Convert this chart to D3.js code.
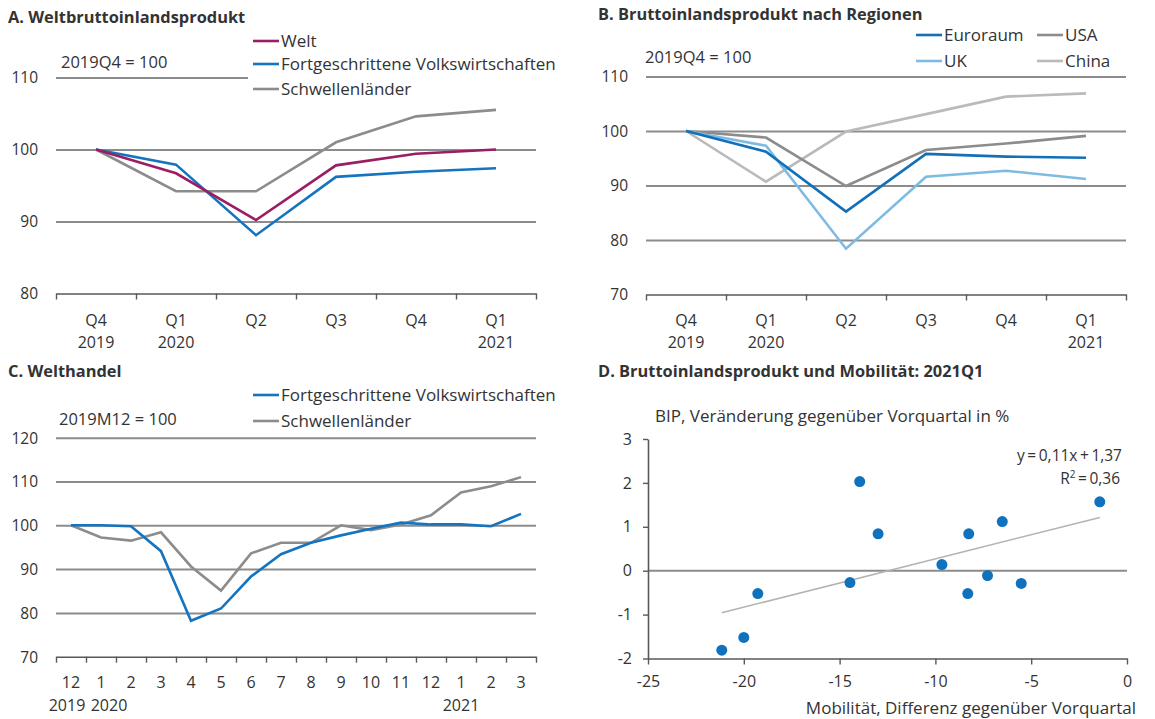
<!DOCTYPE html>
<html><head><meta charset="utf-8">
<script src="https://cdn.jsdelivr.net/npm/d3@7"></script>
<style>
html,body{margin:0;padding:0;background:#fff;}
svg text{font-family:"Open Sans","Noto Sans",sans-serif;fill:#333;}
</style></head>
<body>
<svg id="c" width="1155" height="719"></svg>
<script>
// ---------- data ----------
const qLabels = ["Q4","Q1","Q2","Q3","Q4","Q1"];
const qYears  = ["2019","2020","","","","2021"];
const weltA   = [100, 96.7, 90.2, 97.8, 99.4, 100.0];
const fortA   = [100, 97.9, 88.1, 96.2, 96.9, 97.4];
const schwA   = [100, 94.2, 94.2, 101.0, 104.6, 105.5];
const yTicksA = [80, 90, 100, 110];

const euroB   = [100, 96.2, 85.2, 95.8, 95.3, 95.1];
const usaB    = [100, 98.8, 89.9, 96.5, 97.7, 99.1];
const ukB     = [100, 97.3, 78.4, 91.6, 92.7, 91.2];
const chinaB  = [100, 90.7, 99.9, 103.1, 106.3, 106.9];
const yTicksB = [70, 80, 90, 100, 110];

const months  = ["12","1","2","3","4","5","6","7","8","9","10","11","12","1","2","3"];
const fortC   = [100, 100, 99.8, 94.1, 78.2, 81.0, 88.3, 93.4, 96.0, 97.7, 99.2, 100.6, 100.2, 100.2, 99.8, 102.6];
const schwC   = [100, 97.2, 96.5, 98.4, 90.6, 85.1, 93.6, 96.0, 96.0, 100.0, 98.9, 100.2, 102.3, 107.5, 108.9, 111.0];
const yTicksC = [70, 80, 90, 100, 110, 120];

const mobility = [-21.15, -20.0, -19.27, -14.46, -13.95, -12.99, -9.66, -8.26, -8.31, -7.28, -6.51, -5.52, -1.42];
const gdpGrowth = [-1.81, -1.52, -0.52, -0.27, 2.03, 0.84, 0.14, 0.84, -0.52, -0.11, 1.12, -0.29, 1.57];
const trendSlope = 0.11, trendIntercept = 1.37;
const xTicksD = [-25, -20, -15, -10, -5, 0];
const yTicksD = [-2, -1, 0, 1, 2, 3];

// ---------- styles ----------
const C = {
  welt:"#9b1d63", blue:"#1474bf", gray:"#8c8c8c", lightgray:"#bababa",
  lightblue:"#7dbbe3", grid:"#8c8c8c", axis:"#595959", text:"#333"
};
const FS = 15.5;      // numbers / tick labels
const FT = 17;        // word labels
const svg = d3.select("#c");
const fmt = d => String(d);   // plain hyphen for negatives, as in the original

function title(x, y, t){
  svg.append("text").attr("x",x).attr("y",y).attr("font-size",16.4).attr("font-weight","bold")
     .attr("fill","#222").text(t);
}
function txt(g, x, y, t, anchor, fs){
  return g.append("text").attr("x",x).attr("y",y).attr("font-size",fs||FS)
     .attr("text-anchor",anchor||"start").text(t);
}

function linePanel(o){
  const g = svg.append("g");
  const n = o.labels.length;
  const xi = d3.scaleLinear().domain([0,n]).range([o.x0,o.x1]);
  const xc = i => xi(i+0.5);
  const y = d3.scaleLinear().domain(o.yDomain).range([o.yBottom,o.yTop]);
  const ga = g.append("g").attr("transform",`translate(${o.x0},0)`)
    .call(d3.axisLeft(y).tickValues(o.yTicks).tickSize(-(o.x1-o.x0)).tickFormat(fmt));
  ga.select(".domain").remove();
  ga.selectAll(".tick line").attr("stroke",C.grid).attr("stroke-width",2)
    .filter(d=>d===o.yDomain[0]).remove();
  ga.selectAll(".tick text").attr("font-size",FS).attr("font-family",null).attr("fill",C.text)
    .attr("x", o.labelRight - o.x0).attr("dy","0.35em");
  const gx = g.append("g").attr("transform",`translate(0,${o.yBottom})`)
    .call(d3.axisBottom(xi).tickValues(d3.range(n+1)).tickSize(6).tickSizeOuter(0).tickFormat(""));
  gx.select(".domain").attr("stroke",C.axis).attr("stroke-width",1.6);
  gx.selectAll(".tick line").attr("stroke",C.axis).attr("stroke-width",1.4);
  o.labels.forEach((l,i)=>{ txt(g, xc(i), o.labY1, l, "middle", o.labFs); });
  o.onLegendBg && o.onLegendBg(g);
  const line = d3.line().x((d,i)=>xc(i)).y(d=>y(d));
  o.series.forEach(s=>{
    g.append("path").datum(s.data).attr("d",line).attr("fill","none")
     .attr("stroke",s.color).attr("stroke-width",2.6).attr("stroke-linejoin","miter");
  });
  return {g,xi,xc,y};
}

function legendItem(g, x, y, color, label){
  g.append("line").attr("x1",x).attr("x2",x+26).attr("y1",y).attr("y2",y)
   .attr("stroke",color).attr("stroke-width",2.6);
  txt(g, x+28, y+6, label, "start", FT);
}

// ---------- Panel A ----------
title(8, 23, "A. Weltbruttoinlandsprodukt");
{
  const p = linePanel({
    x0:56, x1:536, yBottom:293.5, yTop:77.5, yDomain:[80,110], yTicks:yTicksA,
    labelRight:38, labels:qLabels, labY1:326, labFs:16,
    series:[{data:schwA,color:C.gray},{data:fortA,color:C.blue},{data:weltA,color:C.welt}],
    onLegendBg:g=>g.append("rect").attr("x",248).attr("y",30).attr("width",320).attr("height",70).attr("fill","#fff")
  });
  qYears.forEach((t,i)=>{ if(t) txt(p.g, p.xc(i), 348, t, "middle", 16); });
  txt(p.g, 61, 68, "2019Q4 = 100", "start", 16.5);
  legendItem(p.g, 253, 41, C.welt, "Welt");
  legendItem(p.g, 253, 64, C.blue, "Fortgeschrittene Volkswirtschaften");
  legendItem(p.g, 253, 89, C.gray, "Schwellenländer");
}

// ---------- Panel B ----------
title(598, 20, "B. Bruttoinlandsprodukt nach Regionen");
{
  const p = linePanel({
    x0:646, x1:1126, yBottom:294.5, yTop:76.5, yDomain:[70,110], yTicks:yTicksB,
    labelRight:628, labels:qLabels, labY1:326, labFs:16,
    series:[{data:chinaB,color:C.lightgray},{data:usaB,color:C.gray},{data:ukB,color:C.lightblue},{data:euroB,color:"#1170b8"}]
  });
  qYears.forEach((t,i)=>{ if(t) txt(p.g, p.xc(i), 348, t, "middle", 16); });
  txt(p.g, 645, 63, "2019Q4 = 100", "start", 16.5);
  legendItem(p.g, 916, 35, "#1170b8", "Euroraum");
  legendItem(p.g, 1037, 35, C.gray, "USA");
  legendItem(p.g, 916, 61, C.lightblue, "UK");
  legendItem(p.g, 1037, 61, C.lightgray, "China");
}

// ---------- Panel C ----------
title(8, 377, "C. Welthandel");
{
  const p = linePanel({
    x0:56, x1:536, yBottom:656.7, yTop:437.7, yDomain:[70,120], yTicks:yTicksC,
    labelRight:38, labels:months, labY1:688, labFs:16,
    series:[{data:schwC,color:C.gray},{data:fortC,color:C.blue}]
  });
  txt(p.g, p.xc(0)-4, 711, "2019", "middle", 16);
  txt(p.g, p.xc(1)+8, 711, "2020", "middle", 16);
  txt(p.g, p.xc(13), 711, "2021", "middle", 16);
  txt(p.g, 59, 425, "2019M12 = 100", "start", 16.5);
  legendItem(p.g, 253, 395, C.blue, "Fortgeschrittene Volkswirtschaften");
  legendItem(p.g, 253, 421, C.gray, "Schwellenländer");
}

// ---------- Panel D ----------
title(598, 377, "D. Bruttoinlandsprodukt und Mobilität: 2021Q1");
{
  const g = svg.append("g");
  const x = d3.scaleLinear().domain([-25,0]).range([648,1127]);
  const y = d3.scaleLinear().domain([-2,3]).range([658.5,439]);
  g.append("line").attr("x1",x(-25)).attr("x2",x(0)).attr("y1",y(0)).attr("y2",y(0))
   .attr("stroke",C.grid).attr("stroke-width",2);
  const gy = g.append("g").attr("transform",`translate(${x(-25)},0)`)
    .call(d3.axisLeft(y).tickValues(yTicksD).tickSize(5).tickSizeOuter(0).tickPadding(11).tickFormat(fmt));
  gy.select(".domain").attr("stroke",C.axis).attr("stroke-width",1.6);
  gy.selectAll(".tick line").attr("stroke",C.axis).attr("stroke-width",1.4);
  gy.selectAll(".tick text").attr("font-size",16).attr("font-family",null).attr("fill",C.text);
  const gx = g.append("g").attr("transform",`translate(0,${y(-2)})`)
    .call(d3.axisBottom(x).tickValues(xTicksD).tickSize(6).tickSizeOuter(0).tickPadding(11).tickFormat(fmt));
  gx.select(".domain").attr("stroke",C.axis).attr("stroke-width",1.6);
  gx.selectAll(".tick line").attr("stroke",C.axis).attr("stroke-width",1.4);
  gx.selectAll(".tick text").attr("font-size",16).attr("font-family",null).attr("fill",C.text);
  const xmin = d3.min(mobility), xmax = d3.max(mobility);
  g.append("line").attr("x1",x(xmin)).attr("x2",x(xmax))
   .attr("y1",y(trendSlope*xmin+trendIntercept)).attr("y2",y(trendSlope*xmax+trendIntercept))
   .attr("stroke","#b3b3b3").attr("stroke-width",1.6);
  g.selectAll("circle").data(mobility).join("circle")
   .attr("cx",d=>x(d)).attr("cy",(d,i)=>y(gdpGrowth[i])).attr("r",5.5).attr("fill","#1072bd");
  txt(g, 655, 422, "BIP, Veränderung gegenüber Vorquartal in %", "start", FT);
  txt(g, 1122, 461, "y = 0,11x + 1,37", "end", 15.5).attr("word-spacing",-1.5);
  const r2 = txt(g, 1120, 484, "", "end", 15.5).attr("word-spacing",-1.5);
  r2.append("tspan").text("R");
  r2.append("tspan").attr("dy",-6).attr("font-size",10).text("2");
  r2.append("tspan").attr("dy",6).text(" = 0,36");
  txt(g, 1136, 714, "Mobilität, Differenz gegenüber Vorquartal", "end", FT);
}
</script>
</body></html>
